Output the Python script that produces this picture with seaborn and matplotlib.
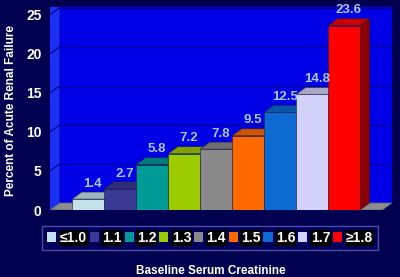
import matplotlib
matplotlib.use("Agg")
import matplotlib.pyplot as plt
import seaborn as sns
import pandas as pd
from matplotlib.patches import Polygon, Rectangle, Patch
from matplotlib.colors import to_rgb

categories = ["≤1.0", "1.1", "1.2", "1.3", "1.4", "1.5", "1.6", "1.7", "≥1.8"]
values = [1.4, 2.7, 5.8, 7.2, 7.8, 9.5, 12.5, 14.8, 23.6]
colors = ["#c4e2ea", "#3a3a96", "#009a98", "#9ccc00", "#8a8a8a",
          "#ff6a00", "#0c6ad2", "#d2d2f8", "#ff0000"]
yticks = [0, 5, 10, 15, 20, 25]
ylabel = "Percent of Acute Renal Failure"
xlabel = "Baseline Serum Creatinine"

sns.set_theme(style="white")
plt.rcParams['font.family'] = ['Liberation Sans', 'DejaVu Sans']

BG = "#000050"
fig = plt.figure(figsize=(4, 2.77), dpi=100, facecolor=BG)
ax = fig.add_axes([50/400, 1-210/277, 342/400, 203/277])
ax.set_facecolor(BG)

df = pd.DataFrame({"cat": categories, "val": values})
sns.barplot(data=df, x="cat", y="val", hue="cat", palette=colors,
            width=1.0, saturation=1, legend=False, ax=ax,
            edgecolor="#202040", linewidth=0.4, zorder=3)

dx, dy = 0.3, 0.9
xmin, xmax = -1.19, 9.5
ymax = 26
ax.set_xlim(xmin, xmax)
ax.set_ylim(0, ymax)

# walls and floor
ax.add_patch(Rectangle((xmin + dx, dy), xmax - xmin - dx, ymax - dy,
                       facecolor="#0000e6", edgecolor="none", zorder=0.5))
ax.add_patch(Polygon([(xmin, 0), (xmin + dx, dy), (xmin + dx, ymax), (xmin, ymax)],
                     closed=True, facecolor="#1a30f4", edgecolor="none", zorder=0.6))
ax.add_patch(Polygon([(xmin, 0), (xmax - dx, 0), (xmax, dy), (xmin + dx, dy)],
                     closed=True, facecolor="#8c8c8c", edgecolor="#60607a",
                     linewidth=0.5, zorder=0.7))
for v in yticks[1:]:
    ax.plot([xmin + dx, xmax], [v + dy, v + dy], color="#000090", lw=0.8, zorder=0.8)
    ax.plot([xmin, xmin + dx], [v, v + dy], color="#000090", lw=0.8, zorder=0.8)


def shade(c, f):
    r, g, b = to_rgb(c)
    return (r * f, g * f, b * f)


bars = [p for p in ax.patches if isinstance(p, Rectangle) and p.get_zorder() == 3]
for p, c, v in zip(bars, colors, values):
    x0 = p.get_x()
    w = p.get_width()
    h = p.get_height()
    top = [(x0, h), (x0 + dx, h + dy), (x0 + w + dx, h + dy), (x0 + w, h)]
    side = [(x0 + w, 0), (x0 + w + dx, dy), (x0 + w + dx, h + dy), (x0 + w, h)]
    ax.add_patch(Polygon(top, closed=True, facecolor=shade(c, 0.8),
                         edgecolor="#202040", linewidth=0.4, zorder=2))
    ax.add_patch(Polygon(side, closed=True, facecolor=shade(c, 0.55),
                         edgecolor="#202040", linewidth=0.4, zorder=2))
    ax.text(x0 + w / 2 + dx / 2, h + dy + 0.3, f"{v:.1f}", ha="center", va="bottom",
            color="#a8c8f4", fontsize=9.5, fontweight="bold", zorder=5)

for s in ax.spines.values():
    s.set_visible(False)
ax.set_xticks([])
ax.set_yticks(yticks)
ax.set_yticklabels([str(t) for t in yticks], color="white", fontsize=10, fontweight="bold")
ax.tick_params(axis="y", length=0, pad=6)
ax.set_ylabel(ylabel, color="white", fontsize=8.5, fontweight="bold")
ax.yaxis.set_label_coords(-0.097, 0.49)
ax.set_xlabel(xlabel, color="white", fontsize=8.5, fontweight="bold")
ax.xaxis.set_label_coords(0.47, -0.27)

handles = [Patch(facecolor=c, edgecolor="none") for c in colors]
leg = fig.legend(handles, categories, loc="center", bbox_to_anchor=(0.525, 1 - 238/277),
                 ncol=9, frameon=True, handlelength=0.65, handleheight=0.65,
                 handletextpad=0.25, columnspacing=0.2, borderpad=0.35,
                 prop={"weight": "bold", "size": 10})
leg.get_frame().set_facecolor("#000060")
leg.get_frame().set_edgecolor("#5a64b4")
leg.get_frame().set_linewidth(1.0)
leg.get_frame().set_boxstyle("square", pad=0)
for t in leg.get_texts():
    t.set_color("white")
    t.set_bbox(dict(facecolor="black", edgecolor="none", pad=0.6))

fig.savefig("out.png", dpi=100, facecolor=BG)
